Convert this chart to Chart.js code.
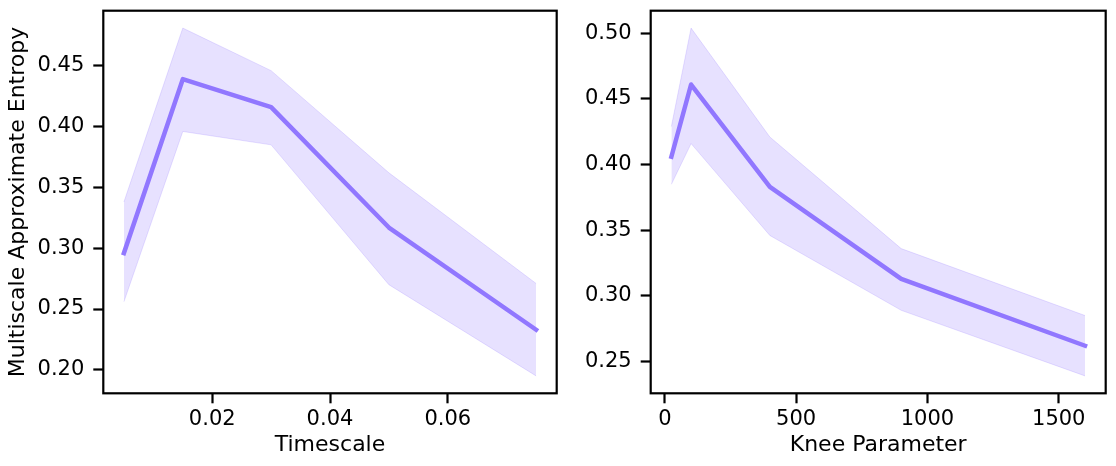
<!DOCTYPE html>
<html>
<head>
<meta charset="utf-8">
<script src="https://cdn.jsdelivr.net/npm/chart.js@4"></script>
<style>
  html, body { margin: 0; padding: 0; background: #fff; }
  body { width: 1116px; height: 466px; position: relative; overflow: hidden; }
  .wrap { position: absolute; top: 0; height: 466px; }
  #w1 { left: 0; width: 560px; }
  #w2 { left: 560px; width: 556px; }
</style>
</head>
<body>
<div class="wrap" id="w1"><canvas id="c1"></canvas></div>
<div class="wrap" id="w2"><canvas id="c2"></canvas></div>
<script>
// ---- Left panel: Timescale ----
const timescale      = [0.005, 0.015, 0.03, 0.05, 0.075];
const timescaleMean  = [0.296, 0.439, 0.416, 0.317, 0.233];
const timescaleUpper = [0.338, 0.481, 0.446, 0.362, 0.271];
const timescaleLower = [0.256, 0.396, 0.385, 0.270, 0.195];
const timescaleXTicks = [0.02, 0.04, 0.06];
const timescaleYTicks = [0.20, 0.25, 0.30, 0.35, 0.40, 0.45];

// ---- Right panel: Knee Parameter ----
const knee      = [25, 100, 400, 900, 1600];
const kneeMean  = [0.406, 0.461, 0.383, 0.313, 0.262];
const kneeUpper = [0.429, 0.504, 0.421, 0.336, 0.285];
const kneeLower = [0.385, 0.416, 0.346, 0.289, 0.239];
const kneeXTicks = [0, 500, 1000, 1500];
const kneeYTicks = [0.25, 0.30, 0.35, 0.40, 0.45, 0.50];

const yTitle = 'Multiscale Approximate Entropy';
const xTitle1 = 'Timescale';
const xTitle2 = 'Knee Parameter';

const LINE = 'rgb(145,120,255)';
const FILL = 'rgba(145,120,255,0.22)';
const EDGE = 'rgba(145,120,255,0.22)';
const FONT = 'DejaVu Sans';

function pts(xs, ys) { return xs.map((x, i) => ({ x: x, y: ys[i] })); }

function margins(vals) {
  const lo = Math.min(...vals), hi = Math.max(...vals), m = (hi - lo) * 0.05;
  return [lo - m, hi + m];
}

const frame = {
  id: 'frame',
  afterDraw(chart) {
    const a = chart.chartArea, ctx = chart.ctx;
    ctx.save();
    ctx.strokeStyle = '#000';
    ctx.lineWidth = 2.2;
    ctx.strokeRect(a.left, a.top, a.right - a.left, a.bottom - a.top);
    ctx.restore();
  }
};

function makeChart(id, xs, mean, upper, lower, xTicks, yTicks, xFmt, xTitle, yTitleText, yWidth, padRight) {
  const [xmin, xmax] = margins(xs);
  const [ymin, ymax] = margins(upper.concat(lower, mean));
  return new Chart(document.getElementById(id), {
    type: 'line',
    data: {
      datasets: [
        { data: pts(xs, upper), borderColor: EDGE, borderWidth: 1, pointRadius: 0, fill: false, tension: 0 },
        { data: pts(xs, lower), borderColor: EDGE, borderWidth: 1, pointRadius: 0, fill: '-1', backgroundColor: FILL, tension: 0 },
        { data: pts(xs, mean), borderColor: LINE, borderWidth: 4.5, pointRadius: 0, fill: false, tension: 0,
          borderJoinStyle: 'round', borderCapStyle: 'square' }
      ]
    },
    options: {
      responsive: true,
      maintainAspectRatio: false,
      animation: false,
      events: [],
      layout: { padding: { top: 10.7, right: padRight, bottom: 0, left: 0 } },
      plugins: { legend: { display: false }, tooltip: { enabled: false } },
      scales: {
        x: {
          type: 'linear', min: xmin, max: xmax,
          afterBuildTicks: s => { s.ticks = xTicks.map(v => ({ value: v })); },
          afterFit: s => { s.height = 72.7; s.paddingLeft = 0; s.paddingRight = 0; },
          grid: { display: true, drawOnChartArea: false, drawTicks: true, tickLength: 10, tickWidth: 2.2, tickColor: '#000' },
          border: { display: false },
          ticks: { color: '#000', padding: 4, maxRotation: 0, autoSkip: false,
                   font: { family: FONT, size: 21 }, callback: v => xFmt(v) },
          title: { display: true, text: xTitle, color: '#000', font: { family: FONT, size: 22 },
                   padding: { top: 0, bottom: 8 } }
        },
        y: {
          type: 'linear', min: ymin, max: ymax,
          afterBuildTicks: s => { s.ticks = yTicks.map(v => ({ value: v })); },
          afterFit: s => { s.width = yWidth; s.paddingTop = 0; s.paddingBottom = 0; },
          grid: { display: true, drawOnChartArea: false, drawTicks: true, tickLength: 10, tickWidth: 2.2, tickColor: '#000' },
          border: { display: false },
          ticks: { color: '#000', padding: 9, autoSkip: false,
                   font: { family: FONT, size: 21 }, callback: v => v.toFixed(2) },
          title: { display: !!yTitleText, text: yTitleText, color: '#000', font: { family: FONT, size: 22 },
                   padding: { top: 5, bottom: 0 } }
        }
      }
    },
    plugins: [frame]
  });
}

makeChart('c1', timescale, timescaleMean, timescaleUpper, timescaleLower,
  timescaleXTicks, timescaleYTicks, v => v.toFixed(2), xTitle1, yTitle, 103.3, 560 - 556.7);
makeChart('c2', knee, kneeMean, kneeUpper, kneeLower,
  kneeXTicks, kneeYTicks, v => String(Math.round(v)), xTitle2, '', 650.7 - 560, 556 - 545.7);
</script>
</body>
</html>
